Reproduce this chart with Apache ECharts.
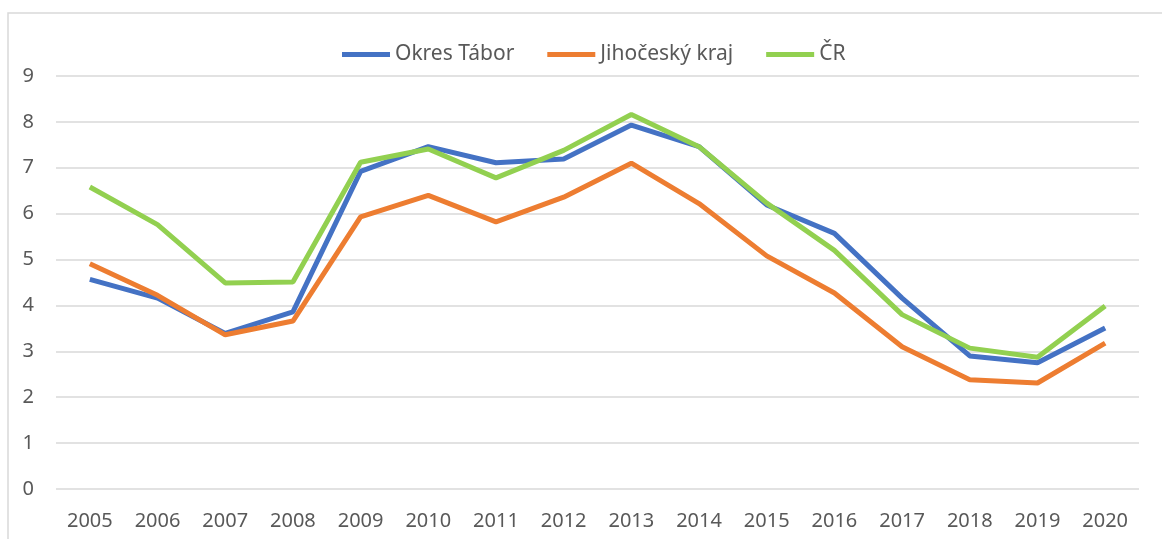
<!DOCTYPE html>
<html>
<head>
<meta charset="utf-8">
<script src="https://cdn.jsdelivr.net/npm/echarts@6/dist/echarts.min.js"></script>
<style>
  html, body { margin: 0; padding: 0; background: #fff; }
  #chart { width: 1162px; height: 539px; }
</style>
</head>
<body>
<div id="chart"></div>
<script>
const years = ['2005', '2006', '2007', '2008', '2009', '2010', '2011', '2012',
  '2013', '2014', '2015', '2016', '2017', '2018', '2019', '2020'];
const okresTabor = [4.57, 4.16, 3.39, 3.86, 6.92, 7.46, 7.11, 7.19, 7.93, 7.46, 6.19, 5.57, 4.16, 2.9, 2.75, 3.51];
const jihoceskyKraj = [4.91, 4.22, 3.36, 3.66, 5.93, 6.4, 5.82, 6.36, 7.1, 6.22, 5.08, 4.27, 3.1, 2.38, 2.31, 3.18];
const cr = [6.58, 5.76, 4.49, 4.51, 7.12, 7.41, 6.78, 7.38, 8.16, 7.46, 6.23, 5.2, 3.8, 3.07, 2.87, 3.99];

const fontFamily = '"Noto Sans", sans-serif';
const textColor = '#595959';

const chart = echarts.init(document.getElementById('chart'));
const option = {
  animation: false,
  textStyle: { fontFamily: fontFamily },
  graphic: [
    {
      type: 'rect',
      shape: { x: 8, y: 13, width: 1170, height: 540 },
      style: { fill: 'none', stroke: '#d9d9d9', lineWidth: 1.5 },
      silent: true
    }
  ],
  legend: {
    top: 39,
    left: 337,
    itemWidth: 48,
    itemHeight: 5,
    itemGap: 33,
    icon: 'rect',
    textStyle: { color: textColor, fontSize: 21, fontFamily: fontFamily },
    data: ['Okres Tábor', 'Jihočeský kraj', 'ČR']
  },
  grid: { left: 56, right: 23, top: 76, bottom: 50 },
  xAxis: {
    type: 'category',
    data: years,
    boundaryGap: true,
    axisLine: { show: false },
    axisTick: { show: false },
    axisLabel: { color: textColor, fontSize: 20, margin: 22, fontFamily: fontFamily }
  },
  yAxis: {
    type: 'value',
    min: 0,
    max: 9,
    interval: 1,
    axisLine: { show: false },
    axisTick: { show: false },
    axisLabel: { color: textColor, fontSize: 20, margin: 22, fontFamily: fontFamily },
    splitLine: { lineStyle: { color: '#d9d9d9', width: 1.5 } }
  },
  series: [
    {
      name: 'Okres Tábor',
      type: 'line',
      data: okresTabor,
      symbol: 'none',
      color: '#4472C4',
      lineStyle: { width: 5, color: '#4472C4' }
    },
    {
      name: 'Jihočeský kraj',
      type: 'line',
      data: jihoceskyKraj,
      symbol: 'none',
      color: '#ED7D31',
      lineStyle: { width: 5, color: '#ED7D31' }
    },
    {
      name: 'ČR',
      type: 'line',
      data: cr,
      symbol: 'none',
      color: '#92D050',
      lineStyle: { width: 5, color: '#92D050' }
    }
  ]
};
chart.setOption(option);
</script>
</body>
</html>
